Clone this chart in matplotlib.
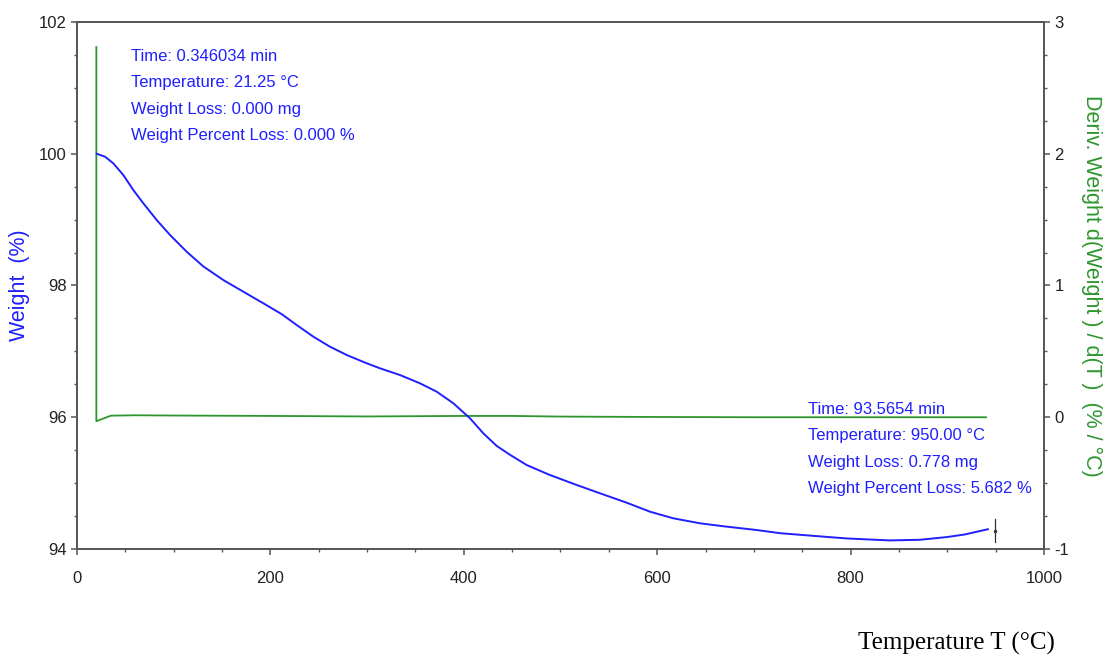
import matplotlib
matplotlib.use("Agg")
import matplotlib.pyplot as plt
from matplotlib.ticker import MultipleLocator

plt.rcParams["axes.unicode_minus"] = False

# Weight curve (TGA)
temp_w = [20.4, 29.0, 37.5, 47.9, 58.2, 68.6, 82.4, 96.2, 113.4, 130.6, 151.3,
          172.0, 192.7, 211.7, 227.2, 244.4, 261.6, 278.9, 299.6, 313.3, 334.0,
          354.7, 372.0, 389.2, 406.4, 420.2, 434.0, 447.8, 465.0, 489.1, 516.7,
          540.8, 568.4, 592.6, 616.6, 644.3, 671.9, 702.9, 727, 761, 796, 840.7,
          871.8, 899, 918, 942]
weight = [100.0, 99.955, 99.855, 99.677, 99.45, 99.248, 98.994, 98.767, 98.513,
          98.29, 98.083, 97.906, 97.73, 97.565, 97.4, 97.223, 97.071, 96.945,
          96.819, 96.743, 96.641, 96.515, 96.388, 96.212, 95.984, 95.756, 95.565,
          95.43, 95.275, 95.123, 94.972, 94.846, 94.703, 94.566, 94.466, 94.39,
          94.339, 94.288, 94.24, 94.2, 94.16, 94.13, 94.14, 94.18, 94.22, 94.30]

# Derivative curve (DTG)
temp_d = [20, 20, 35, 60, 100, 200, 300, 400, 450, 500, 600, 700, 800, 900, 940]
deriv = [2.81, -0.03, 0.012, 0.015, 0.013, 0.01, 0.006, 0.01, 0.01, 0.005,
         0.002, 0.0, 0.0, 0.0, 0.0]

# cursor marker at the end of the run
cursor_t = 949
cursor_w = 94.28

start_info = ["Time: 0.346034 min", "Temperature: 21.25 °C",
              "Weight Loss: 0.000 mg", "Weight Percent Loss: 0.000 %"]
end_info = ["Time: 93.5654 min", "Temperature: 950.00 °C",
            "Weight Loss: 0.778 mg", "Weight Percent Loss: 5.682 %"]

BLUE = "#1f1fff"
GREEN = "#2e962e"
AXC = "#555555"
sans = ["Liberation Sans", "DejaVu Sans"]

fig = plt.figure(figsize=(11.08, 6.57), dpi=100)
ax = fig.add_axes([0.0695, 0.1644, 0.8727, 0.8021])
ax2 = ax.twinx()

ax.plot(temp_w, weight, color=BLUE, lw=1.4, zorder=3)
ax.plot([cursor_t, cursor_t], [cursor_w - 0.17, cursor_w + 0.17], color="#333333", lw=0.9)
ax.plot([cursor_t], [cursor_w], marker="o", ms=1.5, color="#333333")
ax2.plot(temp_d, deriv, color=GREEN, lw=1.3)
ax.set_zorder(ax2.get_zorder() + 1)
ax.patch.set_visible(False)

ax.set_xlim(0, 1000)
ax.set_ylim(94, 102)
ax2.set_ylim(-1, 3)

ax.xaxis.set_major_locator(MultipleLocator(200))
ax.xaxis.set_minor_locator(MultipleLocator(50))
ax.yaxis.set_major_locator(MultipleLocator(2))
ax.yaxis.set_minor_locator(MultipleLocator(0.5))
ax2.yaxis.set_major_locator(MultipleLocator(1))
ax2.yaxis.set_minor_locator(MultipleLocator(0.25))

for a in (ax, ax2):
    for s in a.spines.values():
        s.set_color(AXC)
        s.set_linewidth(1.2)
    a.tick_params(which="major", length=4.5, width=1.1, color=AXC,
                  labelsize=12, labelcolor="#222222", pad=3)
    a.tick_params(which="minor", length=2.5, width=1.0, color=AXC)
    for lab in a.get_xticklabels() + a.get_yticklabels():
        lab.set_family(sans)
ax.tick_params(axis="x", pad=11)

ax.set_ylabel("Weight  (%)", color=BLUE, fontsize=15.5, family=sans, labelpad=6)
ax2.set_ylabel("Deriv. Weight d(Weight ) / d(T )  (% / °C)", color=GREEN,
               fontsize=15.5, family=sans, rotation=270, labelpad=24)
fig.text(0.863, 0.0213, "Temperature T (°C)", fontsize=18,
         family=["Liberation Serif", "DejaVu Serif"], ha="center", va="center")

y0 = 101.476
for i, s in enumerate(start_info):
    ax.text(56, y0 - i * 0.4, s, color=BLUE, fontsize=12, family=sans, va="center")
y1 = 96.118
for i, s in enumerate(end_info):
    ax.text(756, y1 - i * 0.4, s, color=BLUE, fontsize=12, family=sans, va="center")

fig.savefig("out.png", dpi=100)
